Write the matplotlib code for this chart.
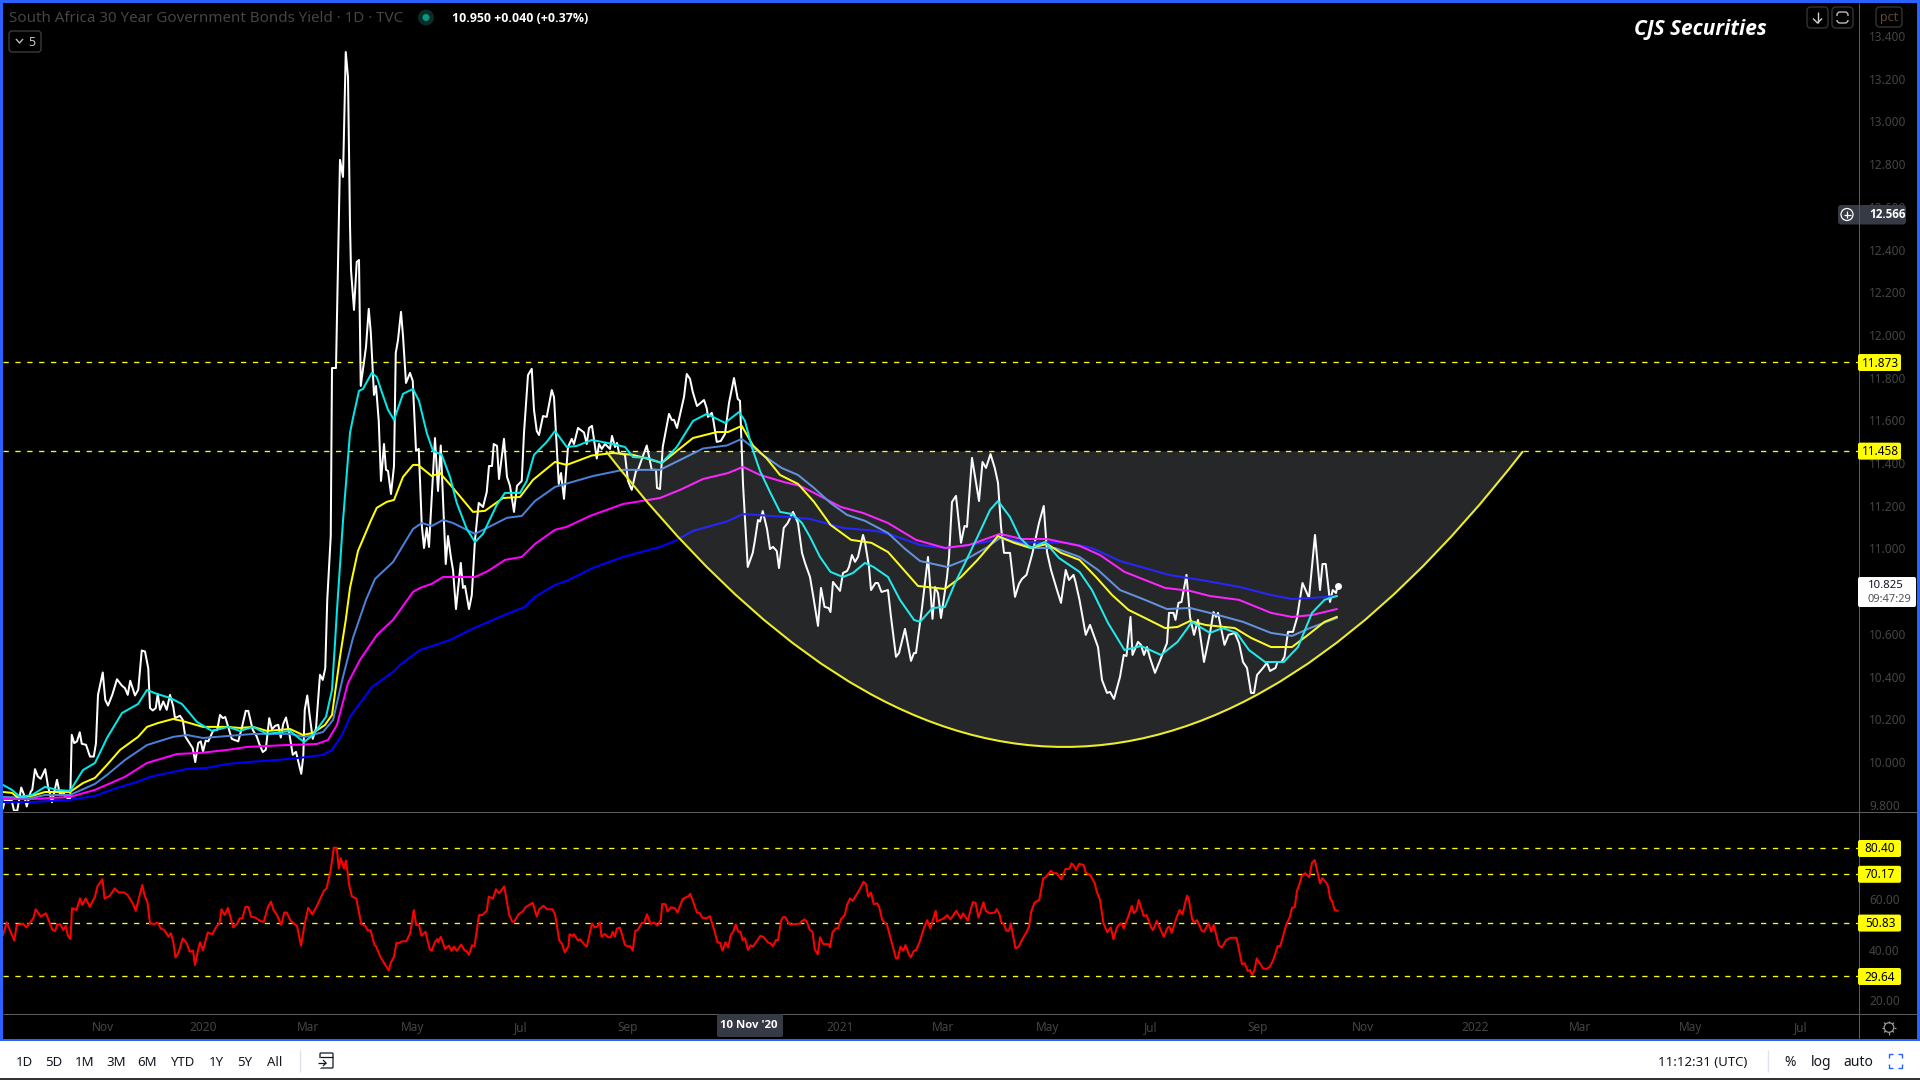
import numpy as np
import matplotlib
matplotlib.use('Agg')
import matplotlib.pyplot as plt
from matplotlib.patches import FancyBboxPatch, Rectangle, Circle, PathPatch
from matplotlib.path import Path

plt.rcParams['font.family'] = ['Noto Sans', 'DejaVu Sans']

TITLE = 'South Africa 30 Year Government Bonds Yield · 1D · TVC'
QUOTE = '10.950 +0.040 (+0.37%)'

# x axis is counted in daily bars from the left edge of the chart
date_ticks = [40, 80, 122, 164, 207, 250, 335, 376, 418, 459, 502, 544, 589, 631, 675, 719]
date_labels = ['Nov', '2020', 'Mar', 'May', 'Jul', 'Sep', '2021', 'Mar', 'May', 'Jul', 'Sep', 'Nov', '2022', 'Mar', 'May', 'Jul']
cursor_bar = 298
cursor_label = "10 Nov '20"

price_ticks = [9.8, 10.0, 10.2, 10.4, 10.6, 10.8, 11.0, 11.2, 11.4, 11.6, 11.8, 12.0, 12.2, 12.4, 12.6, 12.8, 13.0, 13.2, 13.4]
rsi_ticks = [20, 40, 60]
price_levels = [11.873, 11.458]
rsi_levels = [80.40, 70.17, 50.83, 29.64]

price_bars = [0, 0.7, 1.7, 3.5, 4.4, 5.7, 7.3, 8.4, 9.5, 11.1, 11.7, 12.8, 13.9, 15.1, 16.9, 18, 19.6, 21.6, 22.8, 24.1, 24.8, 25.9, 26.9, 27.5, 28.5, 29.6, 30.7, 31.5, 33.2, 34.8, 36.3, 37.2, 38, 39.9, 40.9, 42, 43.7, 45.6, 47.5, 48.8, 49.9, 50.9, 52.8, 54.1, 55.5, 56.8, 58.1, 58.8, 59.9, 61.1, 61.9, 62.8, 64.1, 65.5, 66.8, 68.1, 68.8, 70.8, 71.9, 72.9, 75.9, 76.9, 78.1, 79.1, 80, 81.1, 82.1, 84.1, 85.7, 86.8, 87.9, 88.9, 91.5, 94.1, 95.5, 97.1, 98.1, 99.9, 101.5, 102.5, 103.9, 105.1, 106.5, 107.6, 108.9, 110.1, 111.1, 112.1, 113.2, 114.5, 115.9, 117.2, 119.3, 120.1, 120.7, 121.7, 122.8, 123.9, 125.2, 126.8, 127.9, 128.9, 129.7,
              131.1, 131.6, 133.2, 134.8, 136, 137.1, 138, 138.8, 139.2, 140.4, 141.5, 142.4, 143.1, 145.2, 146.3, 147.1, 148.4, 149.2, 150.3, 151.2, 152.4, 153.2, 154, 155.2, 156.4, 157.1, 158, 159.2, 160, 161.2, 162.8, 163.9, 165.2, 166.3, 167.5, 168.4, 169.5, 170.4, 172.8, 174, 175.1, 177.1, 178, 179.2, 180, 181.2, 183.1, 184, 184.8, 186.4, 187.5, 188.8, 190.3, 192, 193.5, 194.4, 195.6, 196.3, 197.6, 198.4, 200.4, 201.6, 202.8, 204.4, 205.6, 207.5, 208.4, 210, 211.5, 212.4, 213.5, 214.4, 216, 217.5, 219.5, 220.4, 222.3, 223.2, 224.4, 226, 227.5, 228.4, 230, 232.4, 233.5, 234.4, 235.6, 237.5, 238.4, 239.5, 240.8, 242.8, 243.6, 244.8, 245.6, 246.4, 248.8, 250, 251.5, 253.2, 254, 257.5, 259.5, 261.2, 261.6, 262.8, 263.9, 266.4, 267.5, 268.4, 269.6, 272.4, 273.5, 274.8, 275.9, 277.6, 280.4, 281.5, 282, 283.5, 284, 285.5, 287.1, 288.8, 290.4, 292.4, 293.9, 294.8, 296, 297.9, 299.9, 300.8, 302, 302.8, 303.9, 305.6, 306.8, 308, 309.5, 310.4,
              312.3, 313.9, 316, 318, 319.6, 320.8, 322.8, 324.2, 326, 327.2, 328.6, 330.2, 331, 332, 334.8, 336, 337.6, 338.4, 339.6, 340.8, 342, 344, 344.8, 346.4, 347.2, 349, 350, 351.4, 354, 355.2, 357.2, 358.4, 360.8, 363.2, 364.4, 365.2, 367.6, 370, 371.8, 372.8, 374, 375.2, 377.6, 378.4, 379.6, 381.2, 383.2, 384.6, 385.6, 387.6, 390.4, 391.8, 393.2, 395, 396.7, 398, 399.2, 400.4, 402.8, 404.8, 406.4, 407.6, 409.4, 411.8, 414.4, 416.3, 417.6, 419.2, 421.6, 423.2, 425.1, 426.4, 428.2, 429, 430.6, 433.1, 434.8, 438, 439.6, 441.6, 442.8, 444.4, 446.8, 448.3, 449.4, 451, 451.8, 454, 455.2, 456.4, 457.6, 458.8, 460.8, 463.2, 465.6, 466.4, 468.2, 469, 470.2, 471.4, 473.4, 474.8, 476.4, 478, 480.4, 482.8, 484.2, 485.2, 486, 488.6, 490.2, 492.7, 494.4, 496, 497.6, 499.2, 500.4, 501.6, 504, 505.6, 506.8, 509, 509.8, 511.4, 512.6, 514, 516, 517.6, 519.8, 522.4, 524.8, 526.8, 527.8, 529.1, 530.8, 531.9, 533.2, 533.8]
price_vals = [9.783, 9.822, 9.818, 9.818, 9.772, 9.772, 9.880, 9.846, 9.791, 9.861, 9.869, 9.966, 9.932, 9.921, 9.966, 9.885, 9.811, 9.916, 9.846, 9.861, 9.838, 9.830, 9.830, 10.127, 10.088, 10.096, 10.139, 10.085, 10.080, 10.025, 10.025, 10.088, 10.314, 10.419, 10.291, 10.264, 10.314, 10.387, 10.358, 10.345, 10.314, 10.380, 10.311, 10.338, 10.522, 10.517, 10.439, 10.252, 10.241, 10.252, 10.319, 10.244, 10.283, 10.244, 10.314, 10.259, 10.205, 10.216, 10.197, 10.119, 10.064, 9.999, 10.088, 10.096, 10.049, 10.100, 10.096, 10.147, 10.150, 10.220, 10.205, 10.210, 10.108, 10.096, 10.158, 10.239, 10.239, 10.150, 10.119, 10.085, 10.046, 10.057, 10.205, 10.153, 10.169, 10.174, 10.114, 10.178, 10.208, 10.135, 10.033, 10.047, 9.944, 10.025, 10.244, 10.311, 10.205, 10.108, 10.158, 10.408, 10.384, 10.439, 10.759,
              11.058, 11.845, 11.845, 12.820, 12.740, 13.325, 13.208, 12.515, 12.304, 12.117, 12.342, 12.351, 11.761, 11.944, 12.122, 12.014, 11.719, 11.761, 11.597, 11.316, 11.489, 11.368, 11.363, 11.255, 11.386, 11.915, 11.976, 12.108, 11.995, 11.775, 11.822, 11.784, 11.457, 11.466, 11.110, 11.002, 11.096, 11.007, 11.517, 11.269, 11.482, 10.927, 11.058, 10.955, 10.899, 10.716, 10.932, 10.815, 10.824, 10.716, 10.780, 11.040, 11.213, 11.194, 11.264, 11.386, 11.386, 11.489, 11.480, 11.325, 11.513, 11.335, 11.293, 11.171, 11.293, 11.316, 11.541, 11.812, 11.841, 11.649, 11.550, 11.531, 11.620, 11.616, 11.742, 11.709, 11.302, 11.353, 11.232, 11.475, 11.513, 11.489, 11.564, 11.543, 11.489, 11.564, 11.574, 11.421, 11.489, 11.466, 11.489, 11.466, 11.527, 11.475, 11.494, 11.447, 11.438, 11.316, 11.274, 11.363, 11.368, 11.482, 11.368, 11.368, 11.283, 11.278, 11.475, 11.630, 11.602, 11.602, 11.564, 11.709, 11.817, 11.794, 11.733, 11.667, 11.695, 11.656, 11.616, 11.635, 11.611, 11.499, 11.503, 11.536, 11.681, 11.798, 11.700, 11.691, 11.302, 10.913, 10.979, 11.040, 11.133, 11.126, 11.175, 11.091, 10.997, 11.007, 10.988, 10.908,
              11.096, 11.119, 11.171, 11.119, 10.979, 10.932, 10.866, 10.768, 10.637, 10.815, 10.726, 10.721, 10.702, 10.843, 10.801, 10.885, 10.894, 10.913, 10.969, 10.937, 10.960, 11.063, 11.030, 10.913, 10.805, 10.838, 10.838, 10.796, 10.805, 10.679, 10.492, 10.510, 10.623, 10.473, 10.510, 10.510, 10.721, 10.960, 10.670, 10.819, 10.791, 10.674, 10.866, 10.960, 11.218, 11.246, 11.026, 11.105, 11.101, 11.424, 11.222, 11.405, 11.377, 11.442, 11.377, 11.307, 11.101, 10.979, 10.979, 10.773, 10.834, 10.857, 10.876, 10.979, 11.119, 11.199, 10.983, 10.899, 10.805, 10.745, 10.899, 10.852, 10.876, 10.843, 10.759, 10.595, 10.642, 10.538, 10.384, 10.323, 10.328, 10.295, 10.398, 10.501, 10.496, 10.679, 10.501, 10.562, 10.548, 10.501, 10.538, 10.487, 10.417, 10.487, 10.557, 10.698, 10.698, 10.665, 10.745, 10.749, 10.876, 10.679, 10.595, 10.665, 10.468, 10.604, 10.702, 10.679, 10.698, 10.548, 10.595, 10.604, 10.557, 10.468, 10.440, 10.323, 10.323, 10.407, 10.440, 10.464, 10.426, 10.440, 10.468, 10.468, 10.492, 10.609, 10.609, 10.674, 10.838, 10.768, 11.063, 10.805, 10.927, 10.927, 10.749, 10.805, 10.791, 10.825]

cyan_bars = [0, 3.6, 6.8, 11.6, 16.8, 21.6, 26.8, 32, 36.8, 41.6, 47.6, 54, 57.6, 61.6, 66.8, 71.6, 77.6, 83.6, 90, 94.8, 100, 105.6, 114.8, 120.4, 124, 129.2, 131.6, 132.8, 133.6, 136, 138.8, 140, 142.4, 144, 147.5, 149.5, 151.5, 154, 156.4, 160, 164, 166.4, 169.5, 172, 175.5, 178.8, 181.5, 185.5, 188.8, 192, 197.5, 200.8, 206.8, 209.5, 212.4, 217.5, 220.8, 225.5, 229.5, 235.5, 244, 248.8, 252, 257.5, 263.5, 269.5, 276, 281.5, 288.8, 294.4, 296.8, 299.5, 302.8, 306.8, 310.8, 315.6, 319.6, 322.8, 326.8, 331, 336, 340, 344.8, 348.2, 354, 358.8, 364.4, 366.8, 371.8, 376.8, 380.8, 384.8, 389.8, 394.8, 398, 402.8, 406.8, 411, 416.8, 422.4, 430.6, 435.6, 442, 448.6, 455.2, 463.2, 469.8, 475.6, 478.8, 482.8, 487.8, 493.5, 498.4, 504.8, 512.3, 518, 523.6, 528.6, 533.5]
cyan_vals = [9.892, 9.869, 9.836, 9.845, 9.883, 9.869, 9.864, 9.962, 9.995, 10.112, 10.229, 10.271, 10.337, 10.318, 10.300, 10.271, 10.187, 10.145, 10.164, 10.145, 10.164, 10.131, 10.145, 10.093, 10.126, 10.211, 10.337, 10.557, 10.712, 11.129, 11.541, 11.611, 11.738, 11.747, 11.822, 11.803, 11.733, 11.649, 11.602, 11.724, 11.747, 11.691, 11.541, 11.457, 11.438, 11.335, 11.213, 11.091, 11.030, 11.068, 11.204, 11.260, 11.260, 11.316, 11.438, 11.499, 11.550, 11.475, 11.480, 11.508, 11.489, 11.475, 11.428, 11.424, 11.400, 11.475, 11.597, 11.630, 11.588, 11.639, 11.597, 11.475, 11.363, 11.264, 11.171, 11.161, 11.119, 11.054, 10.960, 10.890, 10.866, 10.885, 10.932, 10.913, 10.866, 10.759, 10.665, 10.656, 10.721, 10.726, 10.838, 10.932, 11.054, 11.180, 11.222, 11.147, 11.049, 11.002, 11.030, 10.955, 10.890, 10.805, 10.651, 10.524, 10.543, 10.501, 10.562, 10.656, 10.632, 10.604, 10.627, 10.604, 10.524, 10.468, 10.468, 10.538, 10.698, 10.759, 10.777]

yellow_bars = [0, 3.6, 5.6, 11.6, 16.8, 26.8, 32, 36.8, 41.6, 46.8, 54, 57.6, 62, 68, 71.6, 80, 89.6, 94.8, 100, 105.6, 114.8, 120, 124, 128.8, 131.6, 134.8, 137.1, 138.8, 142, 147.1, 149.5, 153.5, 156.4, 160, 164, 166, 171.5, 174.8, 180, 188, 192.8, 200, 206.8, 212, 220.8, 225.5, 235.5, 244, 252, 257.5, 263.5, 276, 285.5, 290, 295.5, 300, 305.5, 310.8, 318, 324.4, 331, 339.2, 347.4, 354, 359.6, 366, 376.8, 383.2, 389.8, 398, 404.4, 411, 417.6, 423.2, 430.6, 437.2, 443.6, 450.2, 456.8, 464.8, 469.8, 474.8, 481.2, 492.7, 499.2, 507.2, 515.6, 522, 528.6, 533.5]
yellow_vals = [9.859, 9.855, 9.836, 9.841, 9.859, 9.859, 9.901, 9.925, 9.986, 10.056, 10.117, 10.164, 10.182, 10.201, 10.192, 10.164, 10.164, 10.159, 10.164, 10.145, 10.154, 10.126, 10.136, 10.173, 10.220, 10.492, 10.665, 10.815, 10.988, 11.129, 11.190, 11.218, 11.227, 11.335, 11.391, 11.391, 11.339, 11.353, 11.283, 11.171, 11.176, 11.236, 11.241, 11.321, 11.405, 11.391, 11.435, 11.447, 11.438, 11.421, 11.400, 11.517, 11.545, 11.545, 11.574, 11.482, 11.421, 11.344, 11.302, 11.218, 11.110, 11.040, 11.026, 10.983, 10.909, 10.824, 10.810, 10.866, 10.946, 11.058, 11.026, 11.002, 11.021, 10.979, 10.946, 10.866, 10.782, 10.712, 10.674, 10.627, 10.632, 10.660, 10.641, 10.627, 10.581, 10.538, 10.538, 10.595, 10.656, 10.679]

steel_bars = [0, 11.6, 16.8, 26.8, 36.8, 41.6, 48.8, 57.6, 68, 73.6, 80, 89.6, 100, 114.8, 120.8, 128, 132, 136, 140, 145.2, 148.8, 156, 164, 167.5, 171.5, 176, 180, 188.8, 196, 201.5, 207.5, 212.8, 220.8, 236, 248, 262.8, 270.8, 280, 289.5, 295.5, 302.8, 311.4, 318, 324.4, 331, 337.6, 344.8, 354, 360.4, 366.8, 377.6, 384.8, 393.2, 398.8, 406, 412.8, 420.8, 430.6, 438, 446.8, 456.8, 465.6, 474.8, 484.4, 496, 507.2, 515.6, 522.8, 533.5]
steel_vals = [9.836, 9.831, 9.845, 9.845, 9.897, 9.939, 10.009, 10.079, 10.117, 10.126, 10.112, 10.121, 10.131, 10.131, 10.117, 10.140, 10.196, 10.398, 10.581, 10.759, 10.857, 10.936, 11.091, 11.119, 11.105, 11.133, 11.119, 11.068, 11.110, 11.143, 11.152, 11.222, 11.288, 11.339, 11.368, 11.368, 11.414, 11.468, 11.482, 11.513, 11.447, 11.377, 11.344, 11.283, 11.213, 11.157, 11.129, 11.072, 11.002, 10.941, 10.913, 10.946, 11.002, 11.049, 11.026, 11.002, 11.002, 10.960, 10.899, 10.805, 10.759, 10.716, 10.721, 10.693, 10.656, 10.604, 10.590, 10.627, 10.674]

magenta_bars = [0, 11.6, 26.8, 36.8, 48.8, 57.6, 69.6, 78.8, 89.6, 97.6, 113.6, 125.6, 130, 133.6, 138, 142.8, 149.6, 156, 164, 166.8, 171.5, 176, 188.8, 194, 200.8, 207.5, 212.8, 220.8, 225.5, 234.8, 248, 262.8, 270.8, 280, 290, 296, 302.8, 312.3, 318.8, 324.4, 335.2, 344, 354, 365.2, 376.8, 386.4, 398.8, 407.6, 417.6, 430.6, 438.8, 448.6, 464.8, 474.8, 482.8, 494.4, 507.2, 515.6, 523.6, 533.5]
magenta_vals = [9.826, 9.826, 9.836, 9.869, 9.930, 9.995, 10.037, 10.042, 10.056, 10.070, 10.079, 10.084, 10.103, 10.173, 10.370, 10.478, 10.595, 10.665, 10.796, 10.815, 10.834, 10.866, 10.866, 10.894, 10.946, 10.960, 11.021, 11.087, 11.101, 11.152, 11.208, 11.236, 11.274, 11.325, 11.353, 11.382, 11.344, 11.311, 11.293, 11.260, 11.194, 11.166, 11.119, 11.040, 11.002, 11.016, 11.068, 11.044, 11.044, 11.012, 10.969, 10.890, 10.815, 10.801, 10.777, 10.759, 10.698, 10.679, 10.688, 10.716]

blue_bars = [0, 12, 26.8, 36.8, 45.6, 53.6, 58.8, 73.6, 81.6, 89.6, 98.8, 109.6, 118.8, 128, 131.6, 135.6, 138.8, 147.6, 156, 158.8, 166.8, 178.8, 186.8, 196, 201.5, 208.8, 212.8, 220.8, 225.5, 236, 248, 262.8, 268.8, 276, 289.5, 296, 314, 322.8, 336, 349, 355.6, 366.8, 376.8, 386.4, 393.2, 399.6, 407.6, 425.6, 435.6, 446.8, 456.8, 466.4, 481.2, 494.4, 507.2, 515.6, 523.6, 533.5]
blue_vals = [9.812, 9.812, 9.822, 9.841, 9.878, 9.906, 9.930, 9.967, 9.972, 9.990, 10.000, 10.009, 10.019, 10.033, 10.056, 10.126, 10.211, 10.351, 10.421, 10.454, 10.524, 10.571, 10.618, 10.665, 10.693, 10.726, 10.773, 10.829, 10.848, 10.909, 10.960, 11.007, 11.035, 11.082, 11.126, 11.161, 11.147, 11.138, 11.096, 11.082, 11.063, 11.016, 11.002, 11.016, 11.030, 11.054, 11.030, 11.026, 11.002, 10.941, 10.908, 10.876, 10.848, 10.820, 10.782, 10.763, 10.768, 10.777]

rsi_bars = [0, 1.5, 4.5, 5.5, 8, 9.4, 12.1, 13.1, 15.1, 17.2, 19.8, 20.8, 21.7, 22.9, 24.1, 25.1, 26, 27, 27.6, 29.4, 30.8, 31.7, 33.1, 34.7, 36.8, 37.8, 39.8, 40.6, 42.7, 44.7, 46.2, 48.4, 49.8, 51.9, 53.1, 55.7, 56.6, 57.8, 58.8, 60.6, 61.9, 63.1, 64.5, 66.2, 67.2, 68.2, 69, 70.2, 71.9, 73.5, 74.7, 76, 76.8, 78, 78.8, 80, 81.9, 83.7, 85.5, 86.6, 87.4, 88.6, 90, 92.1, 93.7, 94.7, 95.7, 97, 98.2, 99.2, 100.9, 102.9, 104.3, 106, 107.2, 108.2, 109.6, 111.3, 112.5, 113.5, 115.1, 117.6, 119.2, 120.6, 122.1, 123.7, 125.3, 128.4, 129.4, 131.1, 132.3, 133.5, 134.3, 135.1, 136.4, 137.2, 138.6, 139.6, 141.3, 143.3, 144.9, 145.8, 147, 148.6, 149.2, 150.9, 154.3, 155.1, 156.4, 157.4, 158.2, 159.6, 161.3, 162.9, 164.3, 165.3, 166.4, 167.4, 169, 170.7, 171.5, 172.7, 173.7, 174.1, 175.1, 176.8, 178.4, 179.4, 180.4, 181.5, 183.3, 184.5, 185.6, 186.4, 187.6, 188.6, 190.4, 191.7, 193.5, 194.3, 196, 197.2, 198.4, 200.5, 202.5, 203.7, 204.5, 206.2, 207.8, 209, 211.9, 213.5, 214.5, 216.2, 217.6, 219.8, 220.9, 222.5, 223.7, 224.7, 226.2, 226.6, 227.8, 228.4, 230, 230.9, 232.7, 233.5, 235.6, 236.6, 237.6, 238.8, 239.4, 240.7, 242.1, 243.1, 243.9, 244.7, 245.6, 246.8, 248.8, 250.3, 250.9, 251.9, 252.9, 253.9, 255.6, 256.4, 257.6, 259, 260.5, 261.7, 263.1, 263.7, 265, 265.8, 267.2, 268.8, 269.8, 271.9, 273.1, 274.3, 274.9, 277.6, 278.8, 279.6, 281.5, 282.7, 284.5, 285.8, 286.8, 287.8, 289, 290.1, 291.1, 292.1, 293.1, 294.1, 295, 295.8, 296.8, 298, 299, 300, 302.9, 304.1, 306, 307, 308, 309.2, 310, 311.3, 312.1, 312.9, 314.3, 315.2, 318.8,
            319.3, 320.6, 321.5, 322.7, 323.8, 324.7, 325.9, 326.8, 328.1, 330.4, 330.8, 331.8, 333.1, 334, 335.2, 336.7, 337.6, 338.8, 339.9, 342.9, 344.2, 345.2, 346.1, 347.2, 348.3, 349.7, 350.6, 351.7, 353.6, 357.2, 357.9, 359, 360.1, 361, 362.2, 363.1, 364.3, 365.2, 366.7, 368.3, 369.7, 370.9, 373.1, 373.6, 376.3, 377.7, 379, 381.3, 383.1, 384, 385.9, 387.9, 389, 390.2, 392.2, 393.1, 394.7, 396.8, 397.4, 398.6, 399.2, 400.4, 401.3, 402.4, 403.1, 405, 406.3, 407.7, 409, 410.4, 411.3, 412.6, 414.5, 416.1, 417, 419.2, 420, 421.5, 423.3, 425, 426.5, 427.4, 428.1, 429.2, 430.4, 432.2, 433.1, 434.9, 436.7, 437.5, 438.8, 440.2, 441.7, 443.1, 444.2, 445.6, 446.7, 447.4, 448.3, 450.1, 451.5, 452.4, 453.4, 454.3, 456.3, 457.4, 459.3, 460, 461.5, 464.3, 465.8, 466.5, 467.5, 469.3, 470.6, 471.8, 473.6, 474.3, 475.6, 476.3, 477.6, 479.5, 480.4, 482.2, 483.3, 484.3, 486.3, 487.5, 489.3, 491.1, 493.4, 495.6, 496.7, 497.9, 498.8, 499.7, 500.6, 501.5, 504, 505.4, 506.7, 508.1, 509.3, 509.9, 510.9, 513.4, 514.7, 515.6, 516.7, 517.6, 518.6, 519.5, 520.9, 522.5, 523.6, 524.7, 526.8, 527.7, 529.2, 530, 530.9, 531.6, 532.7, 533.8]
rsi_vals = [45.9, 50.9, 43.7, 49.9, 50.4, 48.9, 52.5, 56.1, 53.2, 54.5, 47.9, 47.5, 50.1, 50.1, 47.9, 49.5, 45.5, 44.3, 56.5, 55.8, 60.4, 57.8, 60.4, 57.1, 61.1, 65.3, 68, 60.4, 61.4, 64.4, 62.8, 62.8, 61.8, 58.5, 55.5, 65.7, 61.8, 58.7, 50.5, 50.3, 50.8, 48.5, 47.9, 45.2, 46.6, 42.6, 37, 38.9, 44.6, 42.6, 39.3, 39.7, 34, 39.9, 43, 39.9, 46.9, 46.2, 49.5, 50.5, 56.1, 53.8, 56.6, 48.9, 50.5, 52.5, 52.5, 57.1, 56.9, 53.2, 52.8, 51.5, 51.1, 57.1, 59.1, 55.8, 53.8, 49.9, 54.8, 54.8, 51.5, 49.5, 41.7, 49.9, 56.7, 54.1, 56.9, 63.5, 64.4, 71.7, 80.5, 80.5, 72.3, 76.3, 72.3, 75.4, 65.1, 61.1, 60.4, 50.3, 49.5, 47.8, 47.8, 41.9, 41.5, 37.3, 31.8, 34.9, 37.3, 42.9, 42.6, 43.4, 43.4, 46.6, 55.8, 49.9, 49.9, 45.6, 47.2, 40.2, 39.7, 42.9, 44.3, 43, 45.2, 40.4, 41.7, 39.6, 41.3, 39.6, 42.1, 40, 39.3, 38, 41.8, 41.5, 53.8, 53.8, 55.5, 61.1, 60.3, 64, 62.4, 65.2, 53.8, 51.2, 51.2, 54.1, 55.2, 56.9, 58.7, 53.2, 56.1, 57.5, 56.1, 56.1, 53.8, 43.7, 42.3, 39, 41.5, 46.2, 45.5, 46.2, 43.7, 44.2, 41.9, 41.3, 50.5, 48.9, 49.2, 50.8, 45.2, 46.3, 45, 45, 47.2, 45.2, 48.5, 48.8, 41.9, 41.3, 41.5, 39.7, 47.5, 47.9, 50.8, 50.5, 54.1, 50.3, 50.8, 49.6, 51.8, 58.2, 58.1, 55.2, 56.9, 56.5, 54.8, 60.2, 60.8, 61.4, 62.2, 54.8, 54.5, 52.8, 52.5, 53.4, 47.9, 42.9, 42.9, 39.7, 43, 41, 45.9, 47.2, 50.1, 47.2, 47.2, 43.9, 44.6, 40, 41.8, 41.3, 45.5, 45.2, 42.9, 42.6, 41.5, 43.9, 43.9, 51.8, 53, 53, 50.5, 50.1, 50.4,
            51.2, 52.1, 51.2, 47.9, 47.2, 40.2, 38.2, 45, 42.3, 42.2, 41, 47, 48.5, 48.5, 52.2, 53.8, 57.8, 60.4, 59.4, 64.4, 67, 66.1, 61.1, 62.7, 58.1, 58.5, 56.5, 51.8, 49.9, 36.6, 36.6, 41.3, 39.7, 41.9, 38.6, 37, 39.6, 39.9, 43.3, 48.5, 51.8, 48.5, 55.5, 51.2, 52.5, 53.8, 52.1, 55.5, 52.5, 54.5, 51.6, 58.9, 58.7, 52.8, 58.9, 55.5, 54.5, 54.8, 56.1, 54.2, 51.2, 50.1, 47.6, 47.6, 50.5, 40.6, 41.3, 44.2, 46.3, 49.2, 55.2, 58.7, 59.8, 68.4, 68.8, 71.4, 70.4, 70.4, 68, 72.1, 72.1, 74.3, 73.7, 71.7, 74.1, 73.7, 70.6, 69.7, 66.4, 63.1, 59.8, 50.5, 47, 48.9, 44.2, 48.9, 50.3, 50.4, 48.5, 53.2, 57.4, 54.5, 55.8, 59.8, 53.4, 53.8, 48.8, 47.9, 51.5, 45.2, 48.8, 49.2, 46.8, 52.5, 55.8, 54.1, 61.5, 60.2, 52.5, 50.8, 51.8, 47.6, 47.2, 50.5, 47.2, 49.9, 41.9, 40.9, 43.9, 44.8, 44.8, 34.3, 34.7, 31.6, 32, 30, 32, 36.6, 32.7, 32.4, 33.3, 36, 39.6, 41.5, 41.5, 50.3, 52.9, 56.7, 56.9, 63.5, 66.1, 69.3, 70.4, 68.8, 74.6, 75.6, 66.4, 68.4, 66.8, 65.3, 60.2, 59.4, 55.8, 55.5]

# rounded-bottom drawing: start, control and end of the arc
cup_bars = [241.2, 424.6, 608]
cup_vals = [11.455, 8.685, 11.455]

W, H = 1920, 1080
BG = '#000000'
GRID_LINE = '#5d5d5d'
AXIS_TEXT = '#454545'
DARK_LABEL = '#363a45'
BLUE_EDGE = '#2962ff'
YELLOW = '#ffff00'
PANE_L, PANE_R = 3, 1858


def pane(top, bottom):
    return fig.add_axes([PANE_L / W, 1 - bottom / H, (PANE_R - PANE_L) / W, (bottom - top) / H])


fig = plt.figure(figsize=(W / 100, H / 100), dpi=100, facecolor=BG)
ax = pane(4, 811)
rsi = pane(811, 1013)
for a in (ax, rsi):
    a.set_facecolor(BG)
    a.set_xlim(0, (PANE_R - PANE_L) / 2.5)
    for s in a.spines.values():
        s.set_visible(False)
    a.yaxis.tick_right()
    a.tick_params(axis='y', length=0, pad=8, labelsize=8.5, labelcolor=AXIS_TEXT)
ax.set_ylim(9.77, 13.55)
rsi.set_ylim(14.97, 95.07)
ax.set_xticks([])
ax.set_yticks(price_ticks, ['%.3f' % v for v in price_ticks])
rsi.set_yticks(rsi_ticks, ['%.2f' % v for v in rsi_ticks])
rsi.set_xticks(date_ticks, date_labels)
rsi.tick_params(axis='x', length=0, pad=6, labelsize=8.5, labelcolor=AXIS_TEXT)

# main pane
ax.plot(price_bars, price_vals, color='white', lw=1.45, zorder=3, solid_joinstyle='round')
ax.plot(blue_bars, blue_vals, color='#0000ff', lw=1.45, zorder=4)
ax.plot(magenta_bars, magenta_vals, color='#ff00ff', lw=1.45, zorder=4)
ax.plot(steel_bars, steel_vals, color='#4a80d8', lw=1.45, zorder=4)
ax.plot(yellow_bars, yellow_vals, color=YELLOW, lw=1.45, zorder=4)
ax.plot(cyan_bars, cyan_vals, color='#00e8e8', lw=1.45, zorder=4)
ax.plot(price_bars[-1:], price_vals[-1:], 'o', color='white', ms=4, zorder=5)
for lvl in price_levels:
    ax.axhline(lvl, color=YELLOW, lw=0.95, ls=(0, (4, 5)), zorder=2)

cup_xy = list(zip(cup_bars, cup_vals))
cup_fill = Path(cup_xy + [cup_xy[0]], [Path.MOVETO, Path.CURVE3, Path.CURVE3, Path.CLOSEPOLY])
cup_line = Path(cup_xy, [Path.MOVETO, Path.CURVE3, Path.CURVE3])
ax.add_patch(PathPatch(cup_fill, fc='#e0e8f0', alpha=0.17, ec='none', zorder=6))
ax.add_patch(PathPatch(cup_line, fc='none', ec='#ecec28', lw=1.5, zorder=7))

# oscillator pane
rsi.plot(rsi_bars, rsi_vals, color='#ff0000', lw=1.45, zorder=3)
for lvl in rsi_levels:
    rsi.axhline(lvl, color=YELLOW, lw=0.95, ls=(0, (4, 5)), zorder=2)

# overlay in pixel coordinates for the platform controls
ui = fig.add_axes([0, 0, 1, 1], zorder=10)
ui.set_xlim(0, W)
ui.set_ylim(H, 0)
ui.axis('off')
ui.patch.set_alpha(0)


def px_y(axes, val):
    return H - axes.transData.transform((0, val))[1]


def box(x0, y0, x1, y1, fc='none', ec='none', lw=1.0, r=2, z=5):
    ui.add_patch(FancyBboxPatch((x0, y0), x1 - x0, y1 - y0, boxstyle='round,pad=0,rounding_size=%g' % r,
                                fc=fc, ec=ec, lw=lw, zorder=z))


def seg(xs, ys, color, lw=1.0, z=6):
    ui.plot(xs, ys, color=color, lw=lw, zorder=z, solid_capstyle='butt')


def badge(axes, val, txt):
    y = px_y(axes, val)
    box(1858, y - 8, 1901, y + 9, fc=YELLOW)
    ui.text(1880, y + 1, txt, color='black', fontsize=8.5, ha='center', va='center', zorder=6)


# frame and separators
ui.add_patch(Rectangle((0, 1041), W, 37, fc='white', ec='none', zorder=1))
ui.add_patch(Rectangle((0, 1078), W, 2, fc='#333333', ec='none', zorder=1))
ui.add_patch(Rectangle((0, 0), W, 3, fc=BLUE_EDGE, ec='none', zorder=2))
ui.add_patch(Rectangle((0, 1039), W, 2, fc=BLUE_EDGE, ec='none', zorder=2))
ui.add_patch(Rectangle((0, 0), 2.5, 1040, fc=BLUE_EDGE, ec='none', zorder=2))
ui.add_patch(Rectangle((1917, 0), 3, 1040, fc=BLUE_EDGE, ec='none', zorder=2))
seg([3, 1917], [811.5, 811.5], GRID_LINE, 0.72, 3)
seg([3, 1917], [1013.5, 1013.5], GRID_LINE, 0.72, 3)
seg([1858.5, 1858.5], [3, 1039], GRID_LINE, 0.72, 3)

# header
ui.text(9, 19, TITLE, color=AXIS_TEXT, fontsize=10.9, va='center')
ui.add_patch(Circle((426, 17.5), 8, fc='#0b2b29', ec='none', zorder=4))
ui.add_patch(Circle((426, 17.5), 3.5, fc='#089981', ec='none', zorder=5))
ui.text(452, 19, QUOTE, color='white', fontsize=8.9, fontweight='bold', va='center', family='Open Sans')
box(9, 31, 41, 52, ec='#3a3a3a', r=3)
seg([16, 19.5, 23], [39, 43, 39], '#bbbbbb', 1.0)
ui.text(32, 42, '5', color='#c8c8c8', fontsize=9, ha='center', va='center')
ui.text(1700, 30, 'CJS Securities', color='white', fontsize=15, fontweight='bold', fontstyle='italic',
        ha='center', va='center', family='Open Sans')

# chart buttons
box(1807, 7, 1828, 28, ec='#333333', r=4)
seg([1817.5, 1817.5], [12, 23], '#d0d0d0', 1.0)
seg([1813, 1817.5, 1822], [18.5, 23, 18.5], '#d0d0d0', 1.0)
box(1832, 7, 1853, 28, ec='#333333', r=4)
box(1837, 12, 1848, 23, ec='#d0d0d0', lw=0.9, r=3)
seg([1837, 1837], [15.5, 19.5], BG, 1.4, 7)
seg([1848, 1848], [15.5, 19.5], BG, 1.4, 7)
box(1876, 7, 1902, 27, fc=BG, ec='#333333', r=4)
ui.text(1889, 17, 'pct', color='#5c4a38', fontsize=9, ha='center', va='center', zorder=7)

# level labels
for lvl in price_levels:
    badge(ax, lvl, '%.3f' % lvl)
for lvl in rsi_levels:
    badge(rsi, lvl, '%.2f' % lvl)

# crosshair price
y_cross = 214.5
box(1838, 205, 1906, 224.5, fc=DARK_LABEL, r=3)
ui.add_patch(Circle((1847, y_cross), 6, fc='none', ec='white', lw=0.9, zorder=7))
seg([1843.5, 1850.5], [y_cross, y_cross], 'white', 0.9, 7)
seg([1847, 1847], [y_cross - 3.5, y_cross + 3.5], 'white', 0.9, 7)
seg([1858.5, 1858.5], [205, 224.5], GRID_LINE, 0.72, 7)
ui.text(1869, y_cross + 0.5, '12.566', color='white', fontsize=8.4, fontweight='bold', va='center', zorder=7, family='Open Sans')

# last price
box(1858, 577, 1916, 607, fc='white', r=2)
ui.text(1868, 586, '10.825', color='#131722', fontsize=8.2, va='center', zorder=7)
ui.text(1868, 599.5, '09:47:29', color='#555555', fontsize=8.0, va='center', zorder=7)

# crosshair date
x_cross = rsi.transData.transform((cursor_bar, 0))[0]
box(717, 1014, 783, 1037, fc=DARK_LABEL, r=2)
ui.text(x_cross + 1, 1026, cursor_label, color='white', fontsize=8.2, fontweight='bold', ha='center', va='center', zorder=7, family='Open Sans')

# gear
ui.add_patch(Circle((1889, 1027.5), 4.8, fc='none', ec='#9a9a9a', lw=0.9, zorder=7))
for ang in np.arange(0, 360, 45):
    c, s = np.cos(np.radians(ang)), np.sin(np.radians(ang))
    seg([1889 + 4.8 * c, 1889 + 7 * c], [1027.5 + 4.8 * s, 1027.5 + 7 * s], '#9a9a9a', 0.9, 7)

# bottom toolbar
range_labels = ['1D', '5D', '1M', '3M', '6M', 'YTD', '1Y', '5Y', 'All']
range_x = [24, 54, 85, 116, 147, 182, 216, 245, 275]
for lx, lb in zip(range_x, range_labels):
    ui.text(lx, 1062, lb, color='#131722', fontsize=9.5, ha='center', va='center', zorder=3)
seg([300, 300], [1050, 1072], '#e0e3eb', 1.0, 3)
box(320, 1053, 333, 1068, ec='#131722', lw=0.9, r=1, z=3)
seg([320, 333], [1057, 1057], '#131722', 0.9, 4)
ui.add_patch(Rectangle((315, 1058), 5.5, 10, fc='white', ec='none', zorder=3.5))
seg([318, 326], [1063, 1063], '#131722', 0.9, 4)
seg([323, 326, 323], [1060, 1063, 1066], '#131722', 0.9, 4)
ui.text(1703, 1062, '11:12:31 (UTC)', color='#131722', fontsize=9.5, ha='center', va='center', zorder=3)
seg([1768, 1768], [1050, 1072], '#e0e3eb', 1.0, 3)
ui.text(1790, 1062, '%', color='#131722', fontsize=10, ha='center', va='center', zorder=3)
ui.text(1821, 1062, 'log', color='#131722', fontsize=10, ha='center', va='center', zorder=3)
ui.text(1858, 1062, 'auto', color='#131722', fontsize=10, ha='center', va='center', zorder=3)
for cx, cy, dx, dy in [(1889, 1054, 1, 1), (1902, 1054, -1, 1), (1889, 1068, 1, -1), (1902, 1068, -1, -1)]:
    seg([cx + dx * 4, cx, cx], [cy, cy, cy + dy * 4], BLUE_EDGE, 1.0, 3)

fig.savefig('out.png', dpi=100, facecolor=BG)
